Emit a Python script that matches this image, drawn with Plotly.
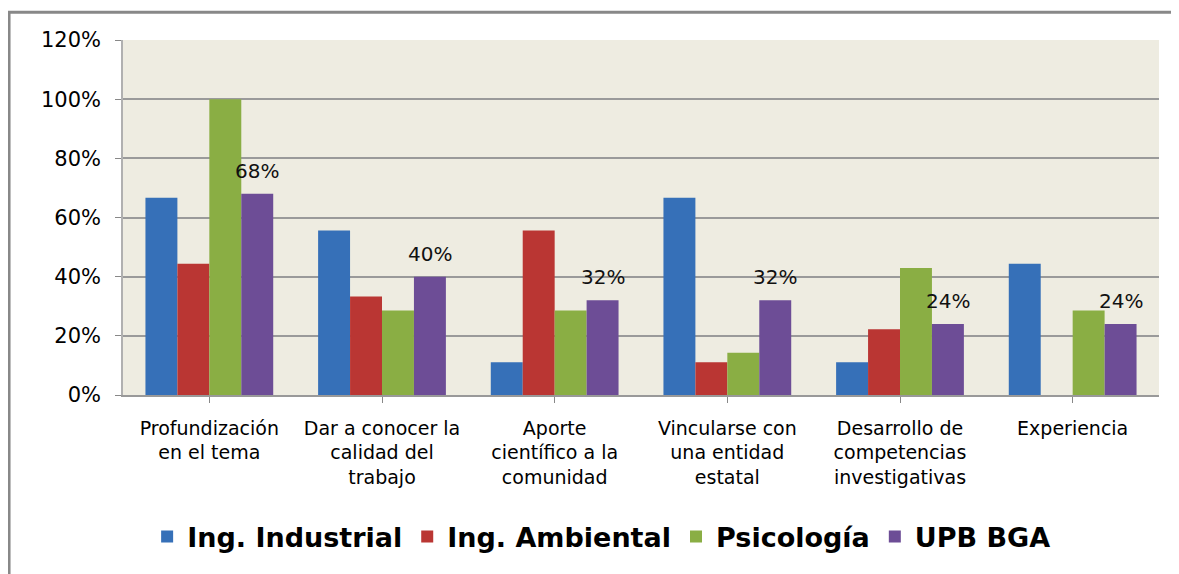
import plotly.graph_objects as go

categories = ["Profundización<br>en el tema", "Dar a conocer la<br>calidad del<br>trabajo",
              "Aporte<br>científico a la<br>comunidad", "Vincularse con<br>una entidad<br>estatal",
              "Desarrollo de<br>competencias<br>investigativas", "Experiencia"]
ing_industrial = [0.667, 0.556, 0.111, 0.667, 0.111, 0.444]
ing_ambiental = [0.444, 0.333, 0.556, 0.111, 0.222, 0.0]
psicologia = [1.0, 0.286, 0.286, 0.143, 0.429, 0.286]
upb_bga = [0.68, 0.40, 0.32, 0.32, 0.24, 0.24]
tick_vals = [0, 0.2, 0.4, 0.6, 0.8, 1.0, 1.2]
tick_text = ["0%", "20%", "40%", "60%", "80%", "100%", "120%"]

series = [("Ing. Industrial", ing_industrial, "#3670B8"),
          ("Ing. Ambiental", ing_ambiental, "#BA3633"),
          ("Psicología", psicologia, "#8AAE44"),
          ("UPB BGA", upb_bga, "#6D4D96")]

x = list(range(len(categories)))
fig = go.Figure()
for name, vals, col in series:
    fig.add_trace(go.Bar(x=x, y=vals, name=name, marker=dict(color=col, line=dict(width=0))))

# data labels for UPB BGA (4th bar of each group)
bargap = 0.26
bar_w_px = 1036 / 6 * (1 - bargap) / 4
for xi, v in zip(x, upb_bga):
    fig.add_annotation(x=xi, y=v, xref="x", yref="y", text=f"{v*100:.0f}%",
                       showarrow=False, xshift=1.5 * bar_w_px, yshift=23, yanchor="middle",
                       font=dict(family="DejaVu Sans", size=20, color="#111"))

fig.update_layout(
    width=1171, height=566,
    margin=dict(l=115, r=20, t=32, b=177),
    paper_bgcolor="white", plot_bgcolor="#EEECE1",
    barmode="group", bargap=bargap, bargroupgap=0,
    showlegend=True,
    legend=dict(orientation="h", x=0.462, xanchor="center", y=-0.40, yanchor="middle",
                font=dict(family="DejaVu Sans", size=27, color="black", weight="bold"),
                itemwidth=30, traceorder="normal"),
    font=dict(family="DejaVu Sans", color="black"),
)
fig.update_xaxes(tickmode="array", tickvals=x, ticktext=categories, range=[-0.5, 5.5],
                 ticks="outside", tickson="boundaries", ticklen=6, tickcolor="#888",
                 showline=True, linecolor="#999", linewidth=1.5, ticklabelstandoff=9,
                 tickfont=dict(family="DejaVu Sans", size=19, color="black"))
fig.update_yaxes(range=[0, 1.2], tickvals=tick_vals, ticktext=tick_text,
                 showgrid=True, gridcolor="#9a9a9a", gridwidth=1.5,
                 ticks="outside", ticklen=6, tickcolor="#888", ticklabelstandoff=10,
                 showline=True, linecolor="#b0b0b0", linewidth=1.5, zeroline=False,
                 tickfont=dict(family="DejaVu Sans", size=21, color="black"))
fig.add_shape(type="rect", xref="paper", yref="paper", x0=-0.110, x1=1.2, y0=-0.7, y1=1.078,
              line=dict(color="#888888", width=3), fillcolor="rgba(0,0,0,0)", layer="below")
fig.write_html("out.html")
